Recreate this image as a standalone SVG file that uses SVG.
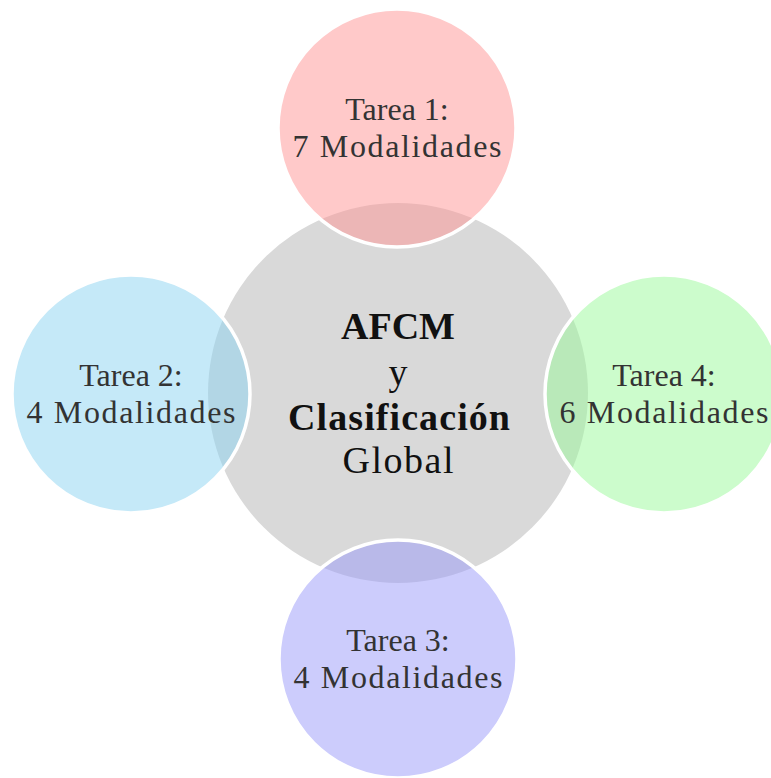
<svg xmlns="http://www.w3.org/2000/svg" width="771" height="778" viewBox="0 0 771 778">
  <style>
    .hub { fill: #d9d9d9; }
    .sat { stroke: #ffffff; stroke-width: 3.5; fill-opacity: 0.5; }
    .t1 { fill: #ff9393; }
    .t2 { fill: #8bd3f1; }
    .t3 { fill: #9999f9; }
    .t4 { fill: #99f999; }
    .lbl { font-family: "Liberation Serif", "Times New Roman", serif; font-size: 32px; fill: #333333; text-anchor: middle; }
    .hubtxt { font-family: "Liberation Serif", "Times New Roman", serif; font-size: 38px; fill: #111111; text-anchor: middle; }
    .b { font-weight: bold; }
  </style>
  <rect width="771" height="778" fill="#ffffff"/>

  <g id="hub">
    <circle class="hub" cx="398" cy="393" r="190"/>
  </g>

  <g id="tarea1">
    <circle class="sat t1" cx="397" cy="128" r="119"/>
    <text class="lbl" x="397" y="120">Tarea 1:</text>
    <text class="lbl" x="397" y="157" textLength="209" lengthAdjust="spacing">7 Modalidades</text>
  </g>

  <g id="tarea2">
    <circle class="sat t2" cx="131" cy="394" r="119"/>
    <text class="lbl" x="131" y="386">Tarea 2:</text>
    <text class="lbl" x="131" y="423" textLength="209" lengthAdjust="spacing">4 Modalidades</text>
  </g>

  <g id="tarea4">
    <circle class="sat t4" cx="664" cy="394" r="119"/>
    <text class="lbl" x="664" y="386">Tarea 4:</text>
    <text class="lbl" x="664" y="423" textLength="209" lengthAdjust="spacing">6 Modalidades</text>
  </g>

  <g id="tarea3">
    <circle class="sat t3" cx="398" cy="659" r="119"/>
    <text class="lbl" x="398" y="651">Tarea 3:</text>
    <text class="lbl" x="398" y="688" textLength="209" lengthAdjust="spacing">4 Modalidades</text>
  </g>

  <g id="hub-label">
    <text class="hubtxt b" x="398" y="339">AFCM</text>
    <text class="hubtxt" x="398" y="385">y</text>
    <text class="hubtxt b" x="399" y="430" textLength="222" lengthAdjust="spacing">Clasificación</text>
    <text class="hubtxt" x="398" y="473" textLength="111" lengthAdjust="spacing">Global</text>
  </g>

  <g id="connectors"></g>
</svg>
